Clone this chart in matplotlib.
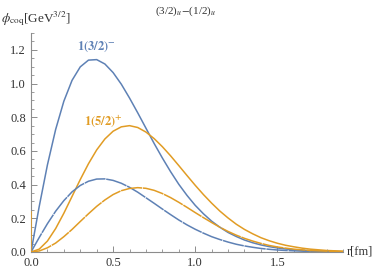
import matplotlib
matplotlib.use("Agg")
import matplotlib.pyplot as plt
from matplotlib.ticker import MultipleLocator, FormatStrFormatter

# radial grid (fm) and the four wavefunctions
r_fm = [0.00, 0.05, 0.10, 0.15, 0.20, 0.25, 0.30, 0.35, 0.40, 0.45,
        0.50, 0.55, 0.60, 0.65, 0.70, 0.75, 0.80, 0.85, 0.90, 0.95,
        1.00, 1.05, 1.10, 1.15, 1.20, 1.25, 1.30, 1.35, 1.40, 1.45,
        1.50, 1.55, 1.60, 1.65, 1.70, 1.75, 1.80, 1.85, 1.90]

phi_32_a = [0.000, 0.270, 0.517, 0.727, 0.895, 1.019, 1.099, 1.139, 1.142, 1.116,
            1.065, 0.996, 0.914, 0.826, 0.735, 0.644, 0.558, 0.477, 0.402, 0.336,
            0.277, 0.227, 0.183, 0.147, 0.116, 0.092, 0.071, 0.055, 0.042, 0.032,
            0.024, 0.018, 0.013, 0.010, 0.007, 0.005, 0.004, 0.003, 0.002]
phi_32_b = [0.000, 0.086, 0.168, 0.242, 0.305, 0.357, 0.395, 0.420, 0.433, 0.434,
            0.425, 0.408, 0.384, 0.355, 0.322, 0.289, 0.255, 0.222, 0.190, 0.161,
            0.135, 0.112, 0.091, 0.074, 0.059, 0.046, 0.036, 0.028, 0.021, 0.016,
            0.012, 0.009, 0.007, 0.005, 0.003, 0.002, 0.002, 0.001, 0.001]
phi_52_a = [0.000, 0.017, 0.065, 0.139, 0.230, 0.330, 0.430, 0.524, 0.606, 0.671,
            0.717, 0.743, 0.750, 0.739, 0.712, 0.673, 0.625, 0.571, 0.513, 0.454,
            0.396, 0.341, 0.290, 0.243, 0.202, 0.165, 0.134, 0.108, 0.085, 0.067,
            0.052, 0.040, 0.031, 0.023, 0.017, 0.013, 0.009, 0.007, 0.005]
phi_52_b = [0.000, 0.006, 0.025, 0.053, 0.091, 0.134, 0.181, 0.227, 0.271, 0.309,
            0.341, 0.364, 0.377, 0.382, 0.378, 0.366, 0.347, 0.323, 0.295, 0.265,
            0.234, 0.204, 0.175, 0.147, 0.122, 0.100, 0.081, 0.065, 0.051, 0.039,
            0.030, 0.023, 0.017, 0.013, 0.009, 0.007, 0.005, 0.003, 0.002]

# little spike at r = 0 that shows up in the original
spike_r = [0.0, 0.0]
spike_v = [0.0, 0.235]

BLUE = "#5e81b5"
ORANGE = "#e19c24"
AXC = "#8c8c8c"

plt.rcParams["font.family"] = ["Liberation Serif", "DejaVu Serif"]
plt.rcParams["mathtext.fontset"] = "stix"

fig = plt.figure(figsize=(3.74, 2.69), dpi=100)
ax = fig.add_axes([31 / 374, 1 - 252 / 269, 312 / 374, 219 / 269])

lw = 1.1
ax.plot(r_fm, phi_32_a, color=BLUE, lw=lw, zorder=3)
ax.plot(r_fm, phi_52_a, color=ORANGE, lw=lw, zorder=3)
ax.plot(r_fm, phi_32_b, color=BLUE, lw=lw, dashes=(14, 0.5), zorder=3)
ax.plot(r_fm, phi_52_b, color=ORANGE, lw=lw, dashes=(14, 0.5), zorder=3)
ax.plot(spike_r, spike_v, color=ORANGE, lw=lw, zorder=3)

ax.set_xlim(0, 1.9)
ax.set_ylim(0, 1.3)
for s in ("top", "right"):
    ax.spines[s].set_visible(False)
for s in ("left", "bottom"):
    ax.spines[s].set_color(AXC)
    ax.spines[s].set_linewidth(0.8)

ax.xaxis.set_major_locator(MultipleLocator(0.5))
ax.xaxis.set_minor_locator(MultipleLocator(0.1))
ax.yaxis.set_major_locator(MultipleLocator(0.2))
ax.yaxis.set_minor_locator(MultipleLocator(0.05))
ax.xaxis.set_major_formatter(FormatStrFormatter("%.1f"))
ax.yaxis.set_major_formatter(FormatStrFormatter("%.1f"))
ax.tick_params(which="major", direction="in", length=4, width=0.7, color=AXC,
               labelsize=9, labelcolor="#333333")
ax.tick_params(which="minor", direction="in", length=2, width=0.6, color=AXC)
ax.tick_params(axis="x", which="major", pad=3.5)
ax.tick_params(axis="y", which="major", pad=3.5)

ax.text(0.40, 1.215, r"$\mathbf{1(3/2)^{-}}$", color=BLUE, ha="center", va="center",
        fontsize=9)
ax.text(0.44, 0.775, r"$\mathbf{1(5/2)^{+}}$", color=ORANGE, ha="center", va="center",
        fontsize=9)

fig.text(186 / 374, 1 - 11 / 269, r"(3/2)$_{u}$$-$(1/2)$_{u}$", ha="center", va="center",
         fontsize=8, color="#333333")
fig.text(1 / 374, 1 - 19 / 269, r"$\phi_{\rm coq}$[GeV$^{3/2}$]", ha="left", va="center",
         fontsize=9.5, color="#333333")
fig.text(347 / 374, 1 - 252 / 269, "r[fm]", ha="left", va="center",
         fontsize=9, color="#333333")

fig.savefig("out.png", dpi=100)
